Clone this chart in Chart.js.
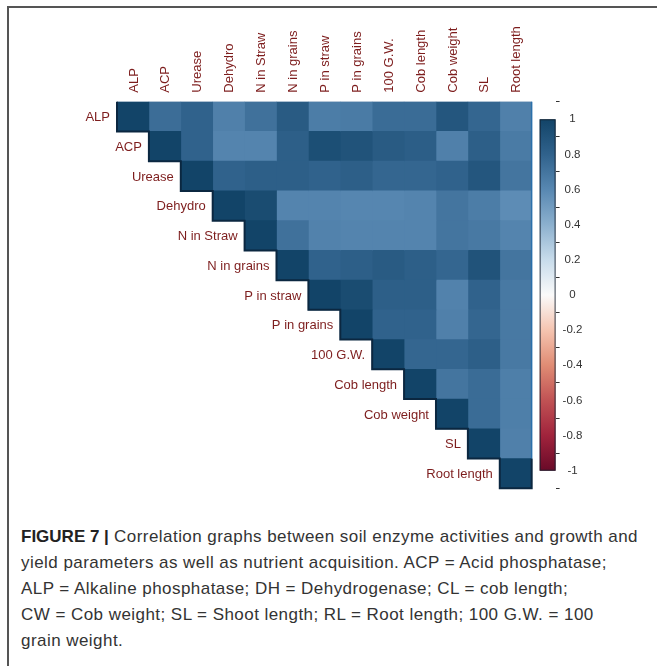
<!DOCTYPE html>
<html>
<head>
<meta charset="utf-8">
<script src="https://cdn.jsdelivr.net/npm/chart.js@4"></script>
<style>
  html, body { margin:0; padding:0; background:#fff; }
  #wrap { position:relative; width:657px; height:666px; overflow:hidden; }
  #c { position:absolute; left:0; top:0; }
  .frameL { position:absolute; left:7px; top:6px; width:1.5px; height:660px; background:#555; }
  .frameT { position:absolute; left:7px; top:6px; width:650px; height:1.5px; background:#555; }
  #cap { position:absolute; left:21px; top:524px; font-family:"Liberation Sans", Arial, sans-serif; font-size:17px; letter-spacing:0.45px; line-height:26px; color:#333; white-space:nowrap; }
  #cap b { color:#222; letter-spacing:0; }
</style>
</head>
<body>
<div id="wrap">
  <div class="frameL"></div>
  <div class="frameT"></div>
  <canvas id="c" width="657" height="500"></canvas>
  <div id="cap"><b>FIGURE 7 |</b> Correlation graphs between soil enzyme activities and growth and<br>yield parameters as well as nutrient acquisition. ACP = Acid phosphatase;<br>ALP = Alkaline phosphatase; DH = Dehydrogenase; CL = cob length;<br>CW = Cob weight; SL = Shoot length; RL = Root length; 100 G.W. = 100<br>grain weight.</div>
</div>
<script>
// Variables (rows and columns of the correlation matrix)
const variables = ['ALP','ACP','Urease','Dehydro','N in Straw','N in grains','P in straw','P in grains','100 G.W.','Cob length','Cob weight','SL','Root length'];

// Upper-triangle correlation values, each row starts at its diagonal
const rowALP      = [1, 0.74, 0.8, 0.64, 0.72, 0.85, 0.66, 0.67, 0.75, 0.75, 0.88, 0.78, 0.64];
const rowACP      = [1, 0.8, 0.62, 0.62, 0.82, 0.93, 0.9, 0.85, 0.83, 0.64, 0.82, 0.67];
const rowUrease   = [1, 0.8, 0.82, 0.82, 0.8, 0.82, 0.78, 0.78, 0.8, 0.88, 0.7];
const rowDehydro  = [1, 0.95, 0.62, 0.62, 0.61, 0.61, 0.62, 0.7, 0.66, 0.58];
const rowNStraw   = [1, 0.72, 0.63, 0.62, 0.62, 0.62, 0.7, 0.68, 0.62];
const rowNGrains  = [1, 0.8, 0.82, 0.85, 0.82, 0.78, 0.9, 0.7];
const rowPStraw   = [1, 0.95, 0.82, 0.82, 0.63, 0.8, 0.68];
const rowPGrains  = [1, 0.8, 0.8, 0.64, 0.78, 0.68];
const rowGW       = [1, 0.78, 0.78, 0.82, 0.68];
const rowCobLen   = [1, 0.7, 0.75, 0.65];
const rowCobWt    = [1, 0.75, 0.65];
const rowSL       = [1, 0.64];
const rowRL       = [1];

// Colour legend ticks
const legendTicks = [1, 0.8, 0.6, 0.4, 0.2, 0, -0.2, -0.4, -0.6, -0.8, -1];

const rows = [rowALP,rowACP,rowUrease,rowDehydro,rowNStraw,rowNGrains,rowPStraw,rowPGrains,rowGW,rowCobLen,rowCobWt,rowSL,rowRL];
const N = variables.length;

// palette (value -> rgb)
const palStops = [
  [-1, [105,10,40]], [-0.8,[160,35,60]], [-0.6,[192,82,84]], [-0.4,[224,140,116]],
  [-0.2,[245,196,176]], [0,[250,250,250]], [0.2,[200,220,235]], [0.4,[140,176,206]],
  [0.6,[88,136,178]], [0.8,[48,98,140]], [1,[18,68,104]]
];
function colorFor(v){
  for (let k=0;k<palStops.length-1;k++){
    const [a,ca]=palStops[k],[b,cb]=palStops[k+1];
    if (v>=a && v<=b){
      const t=(v-a)/(b-a);
      const c=ca.map((x,i)=>Math.round(x+(cb[i]-x)*t));
      return `rgb(${c[0]},${c[1]},${c[2]})`;
    }
  }
  return 'rgb(18,68,104)';
}

// datasets: one per column j, floating horizontal bars [j, j+1] on each row i<=j
const datasets = variables.map((name,j)=>({
  label: name,
  data: variables.map((_,i)=> j>=i ? [j, j+1] : null),
  backgroundColor: variables.map((_,i)=> j>=i ? colorFor(rows[i][j-i]) : 'rgba(0,0,0,0)'),
  borderWidth: 0,
  barPercentage: 1,
  categoryPercentage: 1,
  grouped: false
}));

const labelColor = '#7d1d1d';
const labelFont = '13px "Liberation Sans", Arial, sans-serif';

const extras = {
  id: 'extras',
  beforeDatasetsDraw(chart){
    const ctx=chart.ctx, xs=chart.scales.x, ys=chart.scales.y;
    const rh=(ys.bottom-ys.top)/N;
    ctx.save();
    ctx.fillStyle='rgb(60,108,150)';
    ctx.beginPath();
    ctx.moveTo(xs.getPixelForValue(0), ys.top);
    ctx.lineTo(xs.getPixelForValue(N), ys.top);
    ctx.lineTo(xs.getPixelForValue(N), ys.bottom);
    for (let i=N-1;i>=0;i--){
      ctx.lineTo(xs.getPixelForValue(i+1), ys.top+(i+1)*rh);
      ctx.lineTo(xs.getPixelForValue(i), ys.top+(i+1)*rh);
      ctx.lineTo(xs.getPixelForValue(i), ys.top+i*rh);
    }
    ctx.closePath();
    ctx.fill();
    ctx.restore();
  },
  afterDatasetsDraw(chart){
    const ctx=chart.ctx, xs=chart.scales.x, ys=chart.scales.y, yc=chart.scales.yc;
    const rh=(ys.bottom-ys.top)/N;
    ctx.save();
    // staircase outline on diagonal
    ctx.strokeStyle='#0b2740';
    ctx.lineWidth=2;
    ctx.beginPath();
    ctx.moveTo(xs.getPixelForValue(0), ys.top);
    for (let i=0;i<N;i++){
      ctx.lineTo(xs.getPixelForValue(i), ys.top+(i+1)*rh);
      ctx.lineTo(xs.getPixelForValue(i+1), ys.top+(i+1)*rh);
    }
    ctx.lineTo(xs.getPixelForValue(N), ys.top+(N-1)*rh);
    ctx.stroke();
    // right edge line
    ctx.strokeStyle='rgba(40,110,170,0.9)';
    ctx.lineWidth=1.5;
    ctx.beginPath();
    ctx.moveTo(xs.getPixelForValue(N), ys.top);
    ctx.lineTo(xs.getPixelForValue(N), ys.bottom-rh);
    ctx.stroke();
    ctx.font=labelFont;
    ctx.fillStyle=labelColor;
    // row labels at diagonal
    ctx.textAlign='right';
    ctx.textBaseline='middle';
    variables.forEach((name,i)=>{
      ctx.fillText(name, xs.getPixelForValue(i)-7, ys.getPixelForValue(i)+1);
    });
    // column labels on top, rotated
    ctx.textAlign='left';
    variables.forEach((name,j)=>{
      ctx.save();
      ctx.translate(xs.getPixelForValue(j+0.5)+1, ys.top-9);
      ctx.rotate(-Math.PI/2);
      ctx.fillText(name, 0, 0);
      ctx.restore();
    });
    // colour bar
    const x0=xs.getPixelForValue(13.25), x1=xs.getPixelForValue(13.75);
    const yT=yc.getPixelForValue(1), yB=yc.getPixelForValue(-1);
    const g=ctx.createLinearGradient(0,yT,0,yB);
    palStops.forEach(([v,c])=>{ g.addColorStop((1-v)/2, `rgb(${c[0]},${c[1]},${c[2]})`); });
    ctx.fillStyle=g;
    ctx.fillRect(x0,yT,x1-x0,yB-yT);
    ctx.strokeStyle='rgba(20,30,45,0.85)';
    ctx.lineWidth=1;
    ctx.strokeRect(x0+0.5,yT+0.5,x1-x0-1,yB-yT-1);
    ctx.restore();
  }
};

new Chart(document.getElementById('c'), {
  type: 'bar',
  data: { labels: variables, datasets },
  options: {
    indexAxis: 'y',
    responsive: false,
    animation: false,
    devicePixelRatio: 1,
    layout: { padding: { left: 117, top: 0, right: 0, bottom: 11.7 } },
    plugins: { legend: { display:false }, tooltip: { enabled:false } },
    scales: {
      x: {
        type: 'linear', position: 'top', min: 0, max: 13.75,
        grid: { display:false, drawTicks:false }, border: { display:false },
        afterFit(s){ s.height = 101.7; },
        ticks: { display:false }
      },
      y: {
        type: 'category', display: false, offset: true,
        grid: { display:false }
      },
      yc: {
        type: 'linear', position: 'right', min: -1, max: 1,
        afterBuildTicks(s){ s.ticks = legendTicks.map(v=>({value:v})); },
        afterFit(s){ s.width = 101.4; },
        grid: { drawOnChartArea:false, drawTicks:true, tickLength:4, color:'#333', lineWidth:1 },
        border: { display:false },
        ticks: {
          crossAlign:'center', padding:3, color:'#333',
          font: { family:'"Liberation Sans", Arial, sans-serif', size:11.5 },
          callback: v => String(Math.round(v*10)/10)
        }
      }
    }
  },
  plugins: [extras]
});
</script>
</body>
</html>
